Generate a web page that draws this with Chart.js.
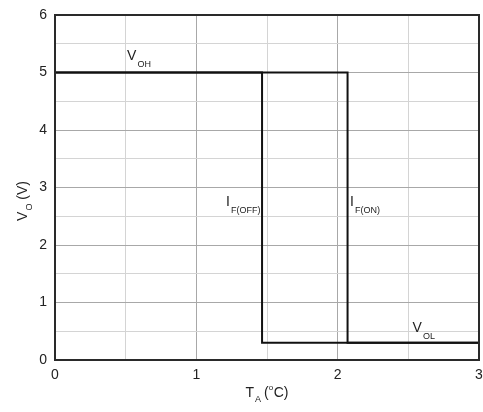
<!DOCTYPE html>
<html>
<head>
<meta charset="utf-8">
<script src="https://cdn.jsdelivr.net/npm/chart.js@4/dist/chart.umd.min.js"></script>
<style>
  html, body { margin: 0; padding: 0; background: #fff; }
  #wrap { width: 483px; height: 412px; }
</style>
</head>
<body>
<div id="wrap"><canvas id="c" width="483" height="412"></canvas></div>
<script>
// Output voltage vs. temperature: switching thresholds (hysteresis)
const tempRising = [0, 2.07, 2.07, 3];      // T_A (°C), turn-on path
const voutRising = [5, 5, 0.3, 0.3];        // V_O (V)
const tempFalling = [0, 1.465, 1.465, 3];   // T_A (°C), turn-off path
const voutFalling = [5, 5, 0.3, 0.3];       // V_O (V)

const xTicks = [0, 1, 2, 3];
const yTicks = [0, 1, 2, 3, 4, 5, 6];

// Curve labels: [main, subscript, x, y]
const curveLabels = [
  ['V', 'OH', 0.51, 5.22],
  ['I', 'F(OFF)', 1.21, 2.68],
  ['I', 'F(ON)', 2.088, 2.68],
  ['V', 'OL', 2.53, 0.49]
];

const FONT = '"Liberation Sans", Arial, sans-serif';
const TEXT = '#222';

const toPoints = (xs, ys) => xs.map((x, i) => ({ x, y: ys[i] }));

function drawSub(ctx, main, sub, x, y, size, subSize) {
  ctx.font = size + 'px ' + FONT;
  ctx.textBaseline = 'alphabetic';
  ctx.textAlign = 'left';
  ctx.fillText(main, x, y);
  const w = ctx.measureText(main).width;
  ctx.font = subSize + 'px ' + FONT;
  ctx.fillText(sub, x + w + 1, y + 7);
  return w + 1 + ctx.measureText(sub).width;
}

const annotate = {
  id: 'annotate',
  afterDatasetsDraw(chart) {
    const { ctx, chartArea: a, scales: { x, y } } = chart;
    ctx.save();
    // plot frame
    ctx.strokeStyle = '#2a2a2a';
    ctx.lineWidth = 2;
    ctx.strokeRect(a.left, a.top, a.right - a.left, a.bottom - a.top);

    ctx.fillStyle = TEXT;
    curveLabels.forEach(([m, s, vx, vy]) => {
      drawSub(ctx, m, s, x.getPixelForValue(vx), y.getPixelForValue(vy), 14, 9);
    });
    ctx.restore();
  },
  afterDraw(chart) {
    const { ctx, chartArea: a } = chart;
    ctx.save();
    ctx.fillStyle = TEXT;
    // x axis title: T_A (°C)
    ctx.font = '14px ' + FONT;
    let wT = ctx.measureText('T').width;
    ctx.font = '9px ' + FONT;
    let wA = ctx.measureText('A').width;
    ctx.font = '14px ' + FONT;
    let wP = ctx.measureText('(').width;
    let wC = ctx.measureText('C)').width;
    const total = wT + 1 + wA + 3 + wP + 5 + wC;
    let cx = (a.left + a.right) / 2 - total / 2;
    const by = 397;
    ctx.textAlign = 'left';
    ctx.textBaseline = 'alphabetic';
    ctx.font = '14px ' + FONT;
    ctx.fillText('T', cx, by);
    ctx.font = '9px ' + FONT;
    ctx.fillText('A', cx + wT + 1, by + 5);
    let px = cx + wT + 1 + wA + 3;
    ctx.font = '14px ' + FONT;
    ctx.fillText('(', px, by);
    ctx.font = '8px ' + FONT;
    ctx.fillText('o', px + wP, by - 7);
    ctx.font = '14px ' + FONT;
    ctx.fillText('C)', px + wP + 5, by);

    // y axis title: V_O (V)
    ctx.translate(27, 201);
    ctx.rotate(-Math.PI / 2);
    ctx.font = '14px ' + FONT;
    const wV = ctx.measureText('V').width;
    ctx.font = '9px ' + FONT;
    const wO = ctx.measureText('O').width;
    ctx.font = '14px ' + FONT;
    const wR = ctx.measureText(' (V)').width;
    const tot = wV + 1 + wO + wR;
    let sx = -tot / 2;
    ctx.fillText('V', sx, 0);
    ctx.font = '9px ' + FONT;
    ctx.fillText('O', sx + wV + 1, 5);
    ctx.font = '14px ' + FONT;
    ctx.fillText(' (V)', sx + wV + 1 + wO, 0);
    ctx.restore();
  }
};

const gridColor = (c) => (Number.isInteger(c.tick.value) ? '#a8a8a8' : '#d4d4d4');

new Chart(document.getElementById('c'), {
  type: 'line',
  data: {
    datasets: [
      {
        data: toPoints(tempRising, voutRising),
        borderColor: '#111',
        borderWidth: 2,
        pointRadius: 0,
        tension: 0,
        fill: false
      },
      {
        data: toPoints(tempFalling, voutFalling),
        borderColor: '#111',
        borderWidth: 2,
        pointRadius: 0,
        tension: 0,
        fill: false
      }
    ]
  },
  options: {
    responsive: false,
    animation: false,
    devicePixelRatio: 1,
    layout: { padding: { left: 0, top: 15, right: 4, bottom: 0 } },
    plugins: { legend: { display: false }, tooltip: { enabled: false } },
    scales: {
      x: {
        type: 'linear',
        min: 0,
        max: 3,
        afterFit: (s) => { s.height = 52; s.paddingLeft = 0; s.paddingRight = 0; },
        border: { display: false },
        grid: { color: gridColor, lineWidth: 1, drawTicks: false },
        ticks: {
          stepSize: 0.5,
          autoSkip: false,
          maxRotation: 0,
          padding: 7,
          color: TEXT,
          font: { family: FONT, size: 14 },
          callback: (v) => (xTicks.includes(v) ? String(v) : '')
        }
      },
      y: {
        type: 'linear',
        min: 0,
        max: 6,
        afterFit: (s) => { s.width = 55; s.paddingTop = 0; s.paddingBottom = 0; },
        border: { display: false },
        grid: { color: gridColor, lineWidth: 1, drawTicks: false },
        ticks: {
          stepSize: 0.5,
          autoSkip: false,
          padding: 8,
          color: TEXT,
          font: { family: FONT, size: 14 },
          callback: (v) => (yTicks.includes(v) ? String(v) : '')
        }
      }
    }
  },
  plugins: [annotate]
});
</script>
</body>
</html>
